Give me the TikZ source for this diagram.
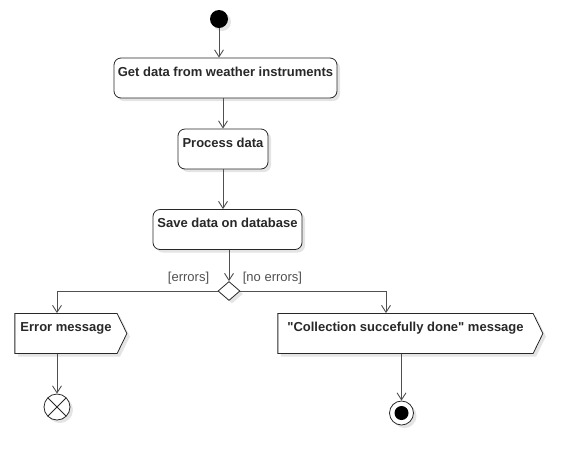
\documentclass[tikz,border=0pt]{standalone}
\usepackage{fontspec}
\setmainfont{Liberation Sans}[Ligatures=TeXOff]
\usepackage{xcolor}
\usetikzlibrary{arrows.meta, positioning, shapes.geometric, shapes.symbols, shadows}
\definecolor{umlline}{RGB}{40, 40, 40}
\definecolor{flowgray}{RGB}{80, 80, 80}
\definecolor{shadowgray}{RGB}{228, 228, 228}

\begin{document}
\begin{tikzpicture}[
  x=1pt, y=-1pt,
  >={Straight Barb[length=7pt, width=9pt]},
  softshadow/.style={drop shadow={shadow xshift=3pt, shadow yshift=-3pt, fill=shadowgray, opacity=1}},
  action/.style={
    rectangle, rounded corners=7pt, draw=umlline, fill=white,
    line width=0.8pt, softshadow, inner xsep=0pt, inner ysep=4pt,
    text height=14pt, text depth=18pt, minimum width=#1,
    font=\fontsize{13}{15}\selectfont\bfseries, text=umlline
  },
  sendsig/.style={
    signal, signal to=east, signal pointer angle=128, draw=umlline, fill=white,
    line width=0.8pt, softshadow, inner xsep=0pt, inner ysep=4pt,
    text height=14pt, text depth=18pt, minimum width=#1,
    font=\fontsize{13}{15}\selectfont\bfseries, text=umlline
  },
  initial/.style={circle, fill=black, minimum size=18pt, inner sep=0pt, softshadow},
  finalnode/.style={
    circle, draw=umlline, fill=white, line width=0.8pt, minimum size=24pt,
    inner sep=0pt, softshadow,
    path picture={\fill[black] (path picture bounding box.center) circle (7pt);}
  },
  flowfinal/.style={
    circle, draw=umlline, fill=white, line width=0.8pt, minimum size=26pt,
    inner sep=0pt, softshadow,
    path picture={
      \draw[umlline, line width=0.8pt] (path picture bounding box.center) ++(-9.2pt,-9.2pt) -- ++(18.4pt,18.4pt);
      \draw[umlline, line width=0.8pt] (path picture bounding box.center) ++(-9.2pt,9.2pt) -- ++(18.4pt,-18.4pt);
    }
  },
  decision/.style={diamond, draw=umlline, fill=white, line width=0.8pt,
    minimum width=22pt, minimum height=19pt, inner sep=0pt, softshadow},
  flow/.style={->, draw=flowgray, line width=0.9pt},
  guard/.style={font=\fontsize{13}{15}\selectfont, text=flowgray, inner sep=1pt},
]

\useasboundingbox (0,0) rectangle (578,467);

% Start
\node[initial] (start) at (219, 19) {};

% Actions
\node[action=223pt] (getdata)  at (225.5, 78)    {Get data from weather instruments};
\node[action=90pt]  (procdata) at (223, 149)     {Process data};
\node[action=149pt] (savedata) at (227.5, 229.5) {Save data on database};

% Decision
\node[decision] (dec) at (229, 291) {};

% Send signals
\node[sendsig=112pt] (errmsg) at (66, 333.5)    {Error message};
\node[sendsig=265pt] (okmsg)  at (405.5, 333.5) {"Collection succefully done" message};

% Ends
\node[flowfinal] (flowend) at (57, 407) {};
\node[finalnode] (actend)  at (401.5, 413) {};

% Flows
\draw[flow] (start) -- (start |- getdata.north);
\draw[flow] (getdata.south -| procdata) -- (procdata.north);
\draw[flow] (procdata.south) -- (procdata.south |- savedata.north);
\draw[flow] (savedata.south -| dec) -- (dec.north);

% Branches
\draw[flow] (dec.west) -| node[guard, pos=0, anchor=south east, xshift=-7pt, yshift=5pt] {[errors]} (flowend |- errmsg.north);
\draw[flow] (dec.east) -| node[guard, pos=0, anchor=south west, xshift=1pt, yshift=5pt] {[no errors]} ([xshift=-19.5pt]okmsg.north);

\draw[flow] (errmsg.south -| flowend) -- (flowend.north);
\draw[flow] (okmsg.south -| actend) -- (actend.north);

\end{tikzpicture}
\end{document}
